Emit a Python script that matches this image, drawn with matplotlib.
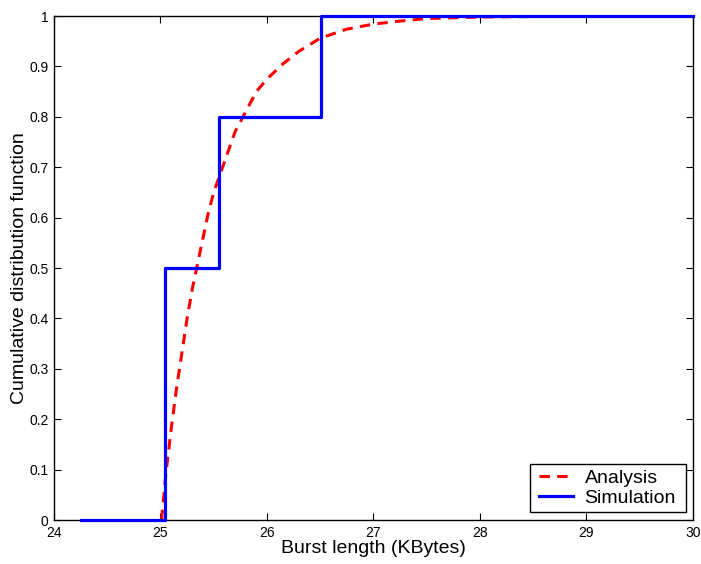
import numpy as np
import matplotlib.pyplot as plt
from matplotlib.path import Path

plt.rcParams['font.family'] = ['Liberation Sans', 'DejaVu Sans']

# Simulation: empirical CDF (step)
sim_x = [24.25, 25.04, 25.04, 25.55, 25.55, 26.51, 26.51, 30.0]
sim_y = [0.0, 0.0, 0.5, 0.5, 0.8, 0.8, 1.0, 1.0]

# Analysis
ana_x = [25.01, 25.05, 25.1, 25.15, 25.2, 25.25, 25.3, 25.35, 25.4, 25.45,
         25.5, 25.6, 25.7, 25.8, 25.9, 26.0, 26.15, 26.3, 26.5, 26.75,
         27.0, 27.25, 27.5, 28.0, 28.5, 29.0, 30.0]
ana_y = [0.0, 0.09, 0.18, 0.26, 0.33, 0.40, 0.46, 0.51, 0.56, 0.61,
         0.65, 0.71, 0.77, 0.81, 0.85, 0.875, 0.905, 0.93, 0.956, 0.974,
         0.984, 0.99, 0.995, 0.998, 0.999, 1.0, 1.0]

xticks = [24, 25, 26, 27, 28, 29, 30]
yticks = [0, 0.1, 0.2, 0.3, 0.4, 0.5, 0.6, 0.7, 0.8, 0.9, 1]
ytlabels = ['0', '0.1', '0.2', '0.3', '0.4', '0.5', '0.6', '0.7', '0.8', '0.9', '1']


def wide_box(x0, y0, width, height, mutation_size):
    # legend frame with extra room left and right only
    dx = 0.26 * mutation_size
    x0 -= dx
    width += 2 * dx
    return Path([(x0, y0), (x0 + width, y0), (x0 + width, y0 + height),
                 (x0, y0 + height), (x0, y0)], closed=True)


fig = plt.figure(figsize=(7.01, 5.64), dpi=100)
ax = fig.add_axes([0.077, 0.078, 0.9115, 0.8936])

ax.plot(ana_x, ana_y, color='red', linestyle=(0, (3.4, 2.4)), linewidth=2.2,
        label='Analysis', zorder=3)
ax.plot(sim_x, sim_y, color='blue', linewidth=2.3, label='Simulation',
        zorder=3, clip_on=False)

ax.set_xlim(24, 30)
ax.set_ylim(0, 1)
ax.set_xticks(xticks)
ax.set_xticklabels([str(t) for t in xticks])
ax.set_yticks(yticks)
ax.set_yticklabels(ytlabels)
ax.tick_params(direction='in', length=5, width=0.8, labelsize=10,
               top=True, right=True, pad=4)
for s in ax.spines.values():
    s.set_linewidth(1.0)

ax.set_xlabel('Burst length (KBytes)', fontsize=14, labelpad=0)
ax.set_ylabel('Cumulative distribution function', fontsize=14, labelpad=1)

leg = ax.legend(loc='lower right', bbox_to_anchor=(0.981, 0.016),
                fontsize=14, fancybox=False, framealpha=1,
                edgecolor='black', borderaxespad=0, handlelength=1.7,
                handletextpad=0.62, borderpad=0.25, labelspacing=0.15)
leg.get_frame().set_boxstyle(wide_box)
leg.get_frame().set_linewidth(1.0)

fig.savefig('out.png', dpi=100)
